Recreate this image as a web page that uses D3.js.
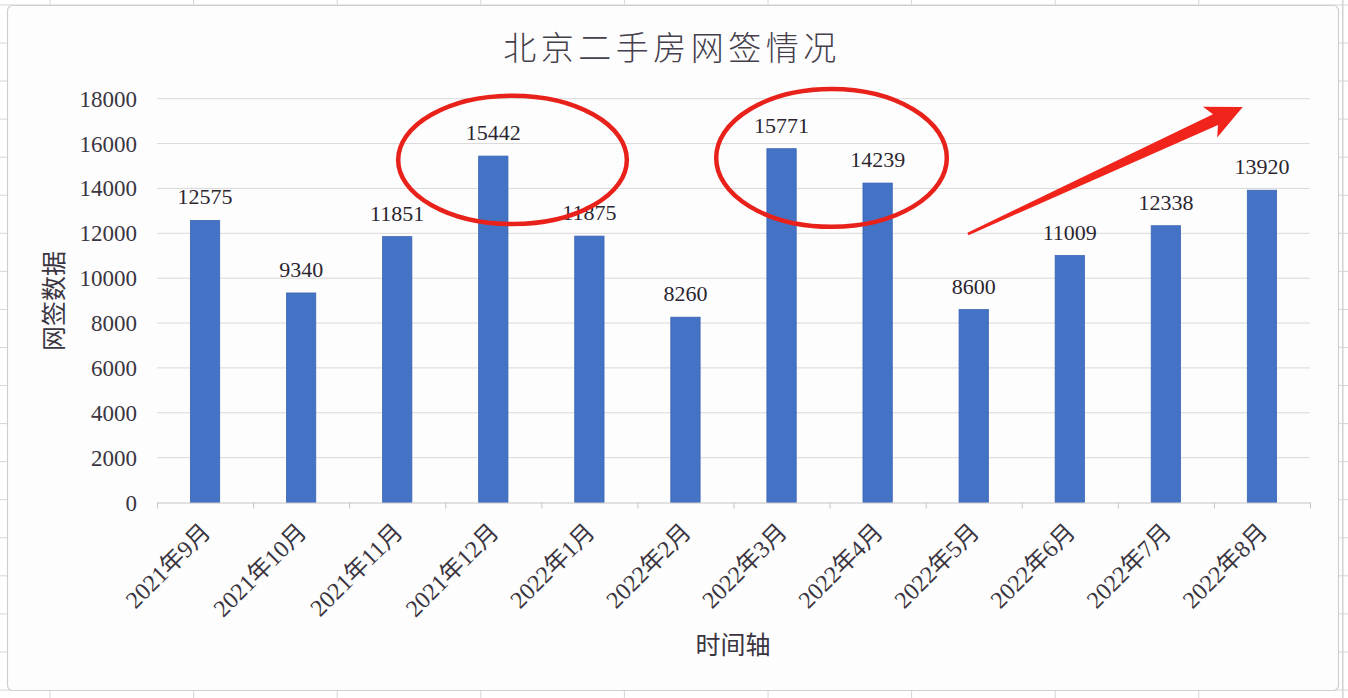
<!DOCTYPE html>
<html>
<head>
<meta charset="utf-8">
<script src="https://cdn.jsdelivr.net/npm/d3@7/dist/d3.min.js"></script>
<style>
  html, body { margin: 0; padding: 0; background: #ffffff; }
  svg { display: block; }
</style>
</head>
<body>
<svg id="chart" width="1348" height="698"></svg>
<script>
// ---- data ----
const categories = ["2021年9月","2021年10月","2021年11月","2021年12月","2022年1月","2022年2月",
                    "2022年3月","2022年4月","2022年5月","2022年6月","2022年7月","2022年8月"];
const values = [12575, 9340, 11851, 15442, 11875, 8260, 15771, 14239, 8600, 11009, 12338, 13920];
const yTicks = [0, 2000, 4000, 6000, 8000, 10000, 12000, 14000, 16000, 18000];
const titleText = "北京二手房网签情况";
const yTitle = "网签数据";
const xTitle = "时间轴";
// annotations, in category units (band index) and data values
const ellipses = [
  { cx: 3.70, cy: 15270, rx: 1.19, ry: 2860 },
  { cx: 7.02, cy: 15360, rx: 1.20, ry: 3070 }
];
const arrowFrom = { x: 8.44, v: 11970 };
const arrowTo   = { x: 11.30, v: 17630 };

// ---- layout ----
const W = 1348, H = 698;
const plot = { left: 157, right: 1310, top: 98.7, bottom: 502.5 };
const svg = d3.select("#chart");

// spreadsheet background grid
const bg = svg.append("g");
bg.append("rect").attr("x", 0).attr("y", 0).attr("width", W).attr("height", H).attr("fill", "#ffffff");
const colX = d3.range(-1, 10).map(k => 50 + 143.6 * k);
const rowY = d3.range(-1, 19).map(k => 43 + 38.06 * k);
bg.selectAll("line.col").data(colX).join("line")
  .attr("x1", d => d).attr("x2", d => d).attr("y1", 0).attr("y2", H)
  .attr("stroke", "#d6d6d6").attr("stroke-width", 1);
bg.selectAll("line.row").data(rowY).join("line")
  .attr("x1", 0).attr("x2", W).attr("y1", d => d).attr("y2", d => d)
  .attr("stroke", "#d6d6d6").attr("stroke-width", 1);
bg.append("line").attr("x1", 1343).attr("x2", 1343).attr("y1", 0).attr("y2", H)
  .attr("stroke", "#d0d0d0");

// chart area
svg.append("rect").attr("x", 7.5).attr("y", 5.5).attr("width", 1331).attr("height", 685)
  .attr("rx", 5).attr("fill", "#fdfdfe").attr("stroke", "#cfcfcf").attr("stroke-width", 1.2);

// scales
const x = d3.scaleBand().domain(categories).range([plot.left, plot.right]).padding(0);
const xu = d3.scaleLinear().domain([0, categories.length]).range([plot.left, plot.right]);
const y = d3.scaleLinear().domain([0, 18000]).range([plot.bottom, plot.top]);

// gridlines
svg.append("g").selectAll("line").data(yTicks.filter(t => t > 0)).join("line")
  .attr("x1", plot.left).attr("x2", plot.right)
  .attr("y1", d => y(d)).attr("y2", d => y(d))
  .attr("stroke", "#d9d9d9").attr("stroke-width", 1);

// y tick labels
const numFont = "'Liberation Serif', 'Noto Sans CJK SC', serif";
svg.append("g").selectAll("text").data(yTicks).join("text")
  .attr("x", 137).attr("y", d => y(d)).attr("dy", "0.35em")
  .attr("text-anchor", "end")
  .attr("font-family", numFont).attr("font-size", 23).attr("fill", "#3a3540")
  .text(d => d);

// bars
const barW = x.bandwidth() * 0.305;
svg.append("g").selectAll("rect").data(values).join("rect")
  .attr("x", (d, i) => x(categories[i]) + (x.bandwidth() - barW) / 2)
  .attr("width", barW)
  .attr("y", d => y(d))
  .attr("height", d => y(0) - y(d))
  .attr("fill", "#4472c4").attr("stroke", "#3b65b3").attr("stroke-width", 0.8);

// x axis line and ticks
const xAxis = d3.axisBottom(xu).tickValues(d3.range(0, categories.length + 1))
  .tickSize(6).tickFormat("");
const gx = svg.append("g").attr("transform", `translate(0,${plot.bottom})`).call(xAxis);
gx.select(".domain").attr("stroke", "#c4c4c4").attr("d", `M${plot.left},0.5H${plot.right}`);
gx.selectAll(".tick line").attr("stroke", "#c4c4c4");

// category labels
svg.append("g").selectAll("text").data(categories).join("text")
  .attr("transform", d => `translate(${x(d) + x.bandwidth() / 2 + 1},${plot.bottom + 25}) rotate(-45)`)
  .attr("text-anchor", "end").attr("dy", "0.35em")
  .attr("font-family", numFont).attr("font-size", 24).attr("fill", "#3a3540")
  .text(d => d);

// data labels
svg.append("g").selectAll("text").data(values).join("text")
  .attr("x", (d, i) => x(categories[i]) + x.bandwidth() / 2)
  .attr("y", d => y(d) - 16)
  .attr("text-anchor", "middle")
  .attr("font-family", numFont).attr("font-size", 22).attr("fill", "#2b2630")
  .text(d => d);

// titles
svg.append("text").attr("x", 672).attr("y", 60).attr("text-anchor", "middle")
  .attr("font-family", "'Noto Sans CJK SC', sans-serif").attr("font-weight", 300)
  .attr("font-size", 33).attr("letter-spacing", 4.5).attr("fill", "#453f4b")
  .text(titleText);
svg.append("text").attr("transform", "translate(63,301) rotate(-90)")
  .attr("text-anchor", "middle")
  .attr("font-family", "'Noto Sans CJK SC', sans-serif").attr("font-size", 25).attr("fill", "#3a3540")
  .text(yTitle);
svg.append("text").attr("x", 733).attr("y", 654).attr("text-anchor", "middle")
  .attr("font-family", "'Noto Sans CJK SC', sans-serif").attr("font-size", 25).attr("fill", "#3a3540")
  .text(xTitle);

// annotations: red ellipses
svg.append("g").selectAll("ellipse").data(ellipses).join("ellipse")
  .attr("cx", d => xu(d.cx)).attr("cy", d => y(d.cy))
  .attr("rx", d => xu(d.rx) - xu(0)).attr("ry", d => y(0) - y(d.ry))
  .attr("fill", "none").attr("stroke", "#e8221b").attr("stroke-width", 4.5);

// annotation: red arrow
(function () {
  const sx = xu(arrowFrom.x), sy = y(arrowFrom.v);
  const tx = xu(arrowTo.x), ty = y(arrowTo.v);
  const dx = tx - sx, dy = ty - sy, len = Math.hypot(dx, dy);
  const ux = dx / len, uy = dy / len, nx = -uy, ny = ux;
  const headL = 36, headW = 17, notch = 6, shaftW = 6, startW = 1.3;
  const baseX = tx - ux * headL, baseY = ty - uy * headL;
  const p = [
    [sx + nx * startW, sy + ny * startW],
    [baseX + ux * notch + nx * shaftW, baseY + uy * notch + ny * shaftW],
    [baseX + nx * headW, baseY + ny * headW],
    [tx, ty],
    [baseX - nx * headW, baseY - ny * headW],
    [baseX + ux * notch - nx * shaftW, baseY + uy * notch - ny * shaftW],
    [sx - nx * startW, sy - ny * startW]
  ];
  svg.append("path").attr("d", d3.line()(p) + "Z").attr("fill", "#f0241a");
})();
</script>
</body>
</html>
